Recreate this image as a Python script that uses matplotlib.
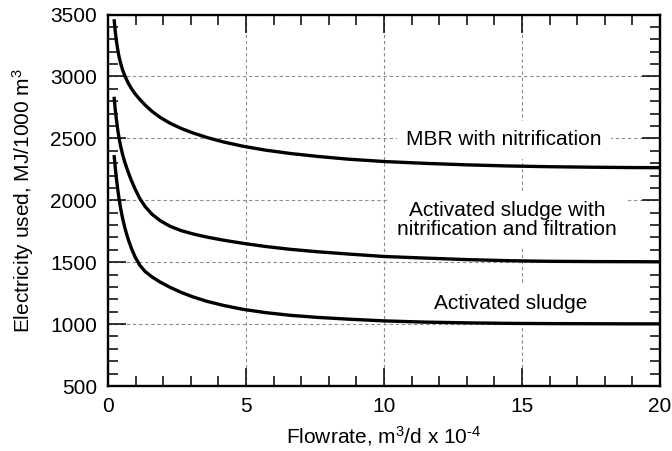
import numpy as np
from matplotlib import pyplot as plt

plt.rcParams['font.family'] = ['Liberation Sans', 'DejaVu Sans']
plt.rcParams['mathtext.fontset'] = 'custom'
plt.rcParams['mathtext.rm'] = 'Liberation Sans'
plt.rcParams['mathtext.it'] = 'Liberation Sans'
plt.rcParams['mathtext.bf'] = 'Liberation Sans'

# values (flowrate, m3/d x 10^-4)
flow = [0.22, 0.26, 0.30, 0.35, 0.40, 0.46, 0.53, 0.62, 0.72, 0.84, 0.98, 1.15, 1.35, 1.60,
        1.90, 2.25, 2.65, 3.10, 3.60, 4.20, 4.90, 5.70, 6.60, 7.60, 8.70, 10.0, 11.5, 13.0,
        14.5, 16.0, 17.5, 19.0, 20.0]

energy_mbr = [3462, 3370, 3295, 3220, 3160, 3105, 3052, 3000, 2952, 2905, 2860, 2815, 2768, 2717,
              2668, 2622, 2580, 2542, 2506, 2470, 2436, 2405, 2378, 2354, 2332, 2313, 2298, 2286,
              2277, 2271, 2267, 2264, 2263]

energy_asnf = [2836, 2740, 2660, 2575, 2503, 2435, 2368, 2300, 2234, 2164, 2092, 2015, 1948, 1886,
               1834, 1790, 1755, 1727, 1702, 1677, 1652, 1627, 1604, 1584, 1566, 1546, 1533, 1521,
               1512, 1507, 1505, 1504, 1503]

energy_as = [2365, 2270, 2185, 2093, 2013, 1932, 1853, 1770, 1693, 1617, 1543, 1476, 1424, 1380,
             1338, 1297, 1256, 1218, 1183, 1150, 1119, 1093, 1071, 1054, 1040, 1026, 1016, 1010,
             1006, 1004, 1003, 1002, 1002]

labels = ["MBR with nitrification",
          "Activated sludge with\nnitrification and filtration",
          "Activated sludge"]
label_pos = [(14.35, 2487), (14.45, 1840), (14.6, 1168)]

fig = plt.figure(figsize=(6.72, 4.51), dpi=100)
ax = fig.add_axes([0.1607, 0.1441, 0.8214, 0.8237])

for ys in [energy_mbr, energy_asnf, energy_as]:
    ax.plot(flow, ys, color='black', lw=2.4, solid_capstyle='butt', solid_joinstyle='round', zorder=5)

for txt, (tx, ty) in zip(labels, label_pos):
    ax.text(tx, ty, txt, ha='center', va='center', fontsize=15, linespacing=0.95,
            bbox=dict(boxstyle='square,pad=0.45', facecolor='white', edgecolor='none'), zorder=4)

ax.set_xlim(0, 20)
ax.set_ylim(500, 3500)
ax.set_xticks(np.arange(0, 21, 5))
ax.set_xticks(np.arange(0, 21, 1), minor=True)
ax.set_yticks(np.arange(500, 3501, 500))
ax.set_yticks(np.arange(500, 3501, 100), minor=True)

ax.grid(True, which='major', color='#8c8c8c', lw=0.8, linestyle=(0, (3, 2.5)))
ax.set_axisbelow(True)

ax.tick_params(which='both', direction='in', top=True, right=True, labelsize=15, pad=8)
ax.tick_params(which='major', length=13, width=1.1)
ax.tick_params(which='minor', length=7, width=1.1)
for sp in ax.spines.values():
    sp.set_linewidth(1.7)
    sp.set_zorder(6)

ax.set_xlabel('Flowrate, m$^3$/d x 10$^{\u20104}$', fontsize=15, labelpad=6)
ax.set_ylabel(r'Electricity used, MJ/1000 m$^3$', fontsize=15, labelpad=10)

fig.savefig('out.png', dpi=100)
